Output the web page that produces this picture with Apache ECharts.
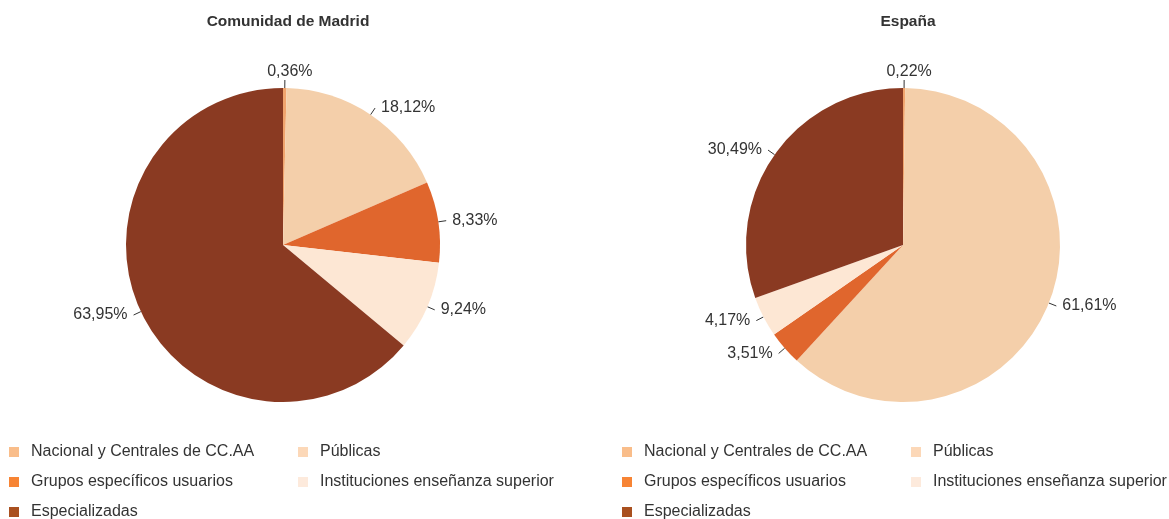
<!DOCTYPE html>
<html>
<head>
<meta charset="utf-8">
<script src="https://cdn.jsdelivr.net/npm/echarts@6/dist/echarts.min.js"></script>
<style>
  html, body { margin: 0; padding: 0; background: #fff; }
  #chart { width: 1169px; height: 519px; }
</style>
</head>
<body>
<div id="chart"></div>
<script>
const categories = ['Nacional y Centrales de CC.AA', 'Públicas', 'Grupos específicos usuarios', 'Instituciones enseñanza superior', 'Especializadas']
const madridValues = [0.36, 18.12, 8.33, 9.24, 63.95]
const espanaValues = [0.22, 61.61, 3.51, 4.17, 30.49]
const titles = ['Comunidad de Madrid', 'España']

const sliceColors = ['#f0a46e', '#f4cfaa', '#e0662d', '#fde7d4', '#8a3a22']
const legendColors = ['#f9bd8a', '#fcd8b8', '#f78434', '#fdeadc', '#a9501f']

const font = 'Arial, "Liberation Sans", sans-serif'

function pieData(values) {
  return categories.map((name, i) => ({
    name: name,
    value: values[i],
    itemStyle: { color: sliceColors[i] }
  }))
}

function legendItems(idx) {
  return idx.map(i => ({
    name: categories[i],
    itemStyle: { color: legendColors[i] }
  }))
}

function makeLegend(left, idx) {
  return {
    orient: 'vertical',
    left: left,
    top: 444,
    height: 100,
    padding: 0,
    itemWidth: 10,
    itemHeight: 10,
    itemGap: 14,
    icon: 'rect',
    textStyle: { fontSize: 16, lineHeight: 16, color: '#333', fontFamily: font, padding: [0, 0, 0, 7] },
    data: legendItems(idx)
  }
}

function makePie(center, values) {
  return {
    type: 'pie',
    center: center,
    radius: 157,
    startAngle: 90,
    clockwise: true,
    animation: false,
    data: pieData(values),
    label: {
      show: true,
      formatter: p => p.value.toFixed(2).replace('.', ',') + '%',
      fontSize: 16,
      color: '#333',
      fontFamily: font,
      padding: [0, 1]
    },
    labelLine: {
      show: true,
      length: 8,
      length2: 0,
      lineStyle: { color: '#333', width: 1 }
    },
    // tiny slices at the top get their label centred above the line
    labelLayout: p => p.dataIndex === 0 ? { align: 'center', verticalAlign: 'bottom' } : {},
    emphasis: { scale: false }
  }
}

const chart = echarts.init(document.getElementById('chart'))
chart.setOption({
  backgroundColor: '#fff',
  title: [
    { text: titles[0], left: 283, top: 9, textAlign: 'center',
      textStyle: { fontSize: 15.5, fontWeight: 'bold', color: '#333', fontFamily: font } },
    { text: titles[1], left: 903, top: 9, textAlign: 'center',
      textStyle: { fontSize: 15.5, fontWeight: 'bold', color: '#333', fontFamily: font } }
  ],
  legend: [
    makeLegend(9, [0, 2, 4]),
    makeLegend(298, [1, 3]),
    makeLegend(622, [0, 2, 4]),
    makeLegend(911, [1, 3])
  ],
  series: [
    makePie([283, 245], madridValues),
    makePie([903, 245], espanaValues)
  ]
})
</script>
</body>
</html>
